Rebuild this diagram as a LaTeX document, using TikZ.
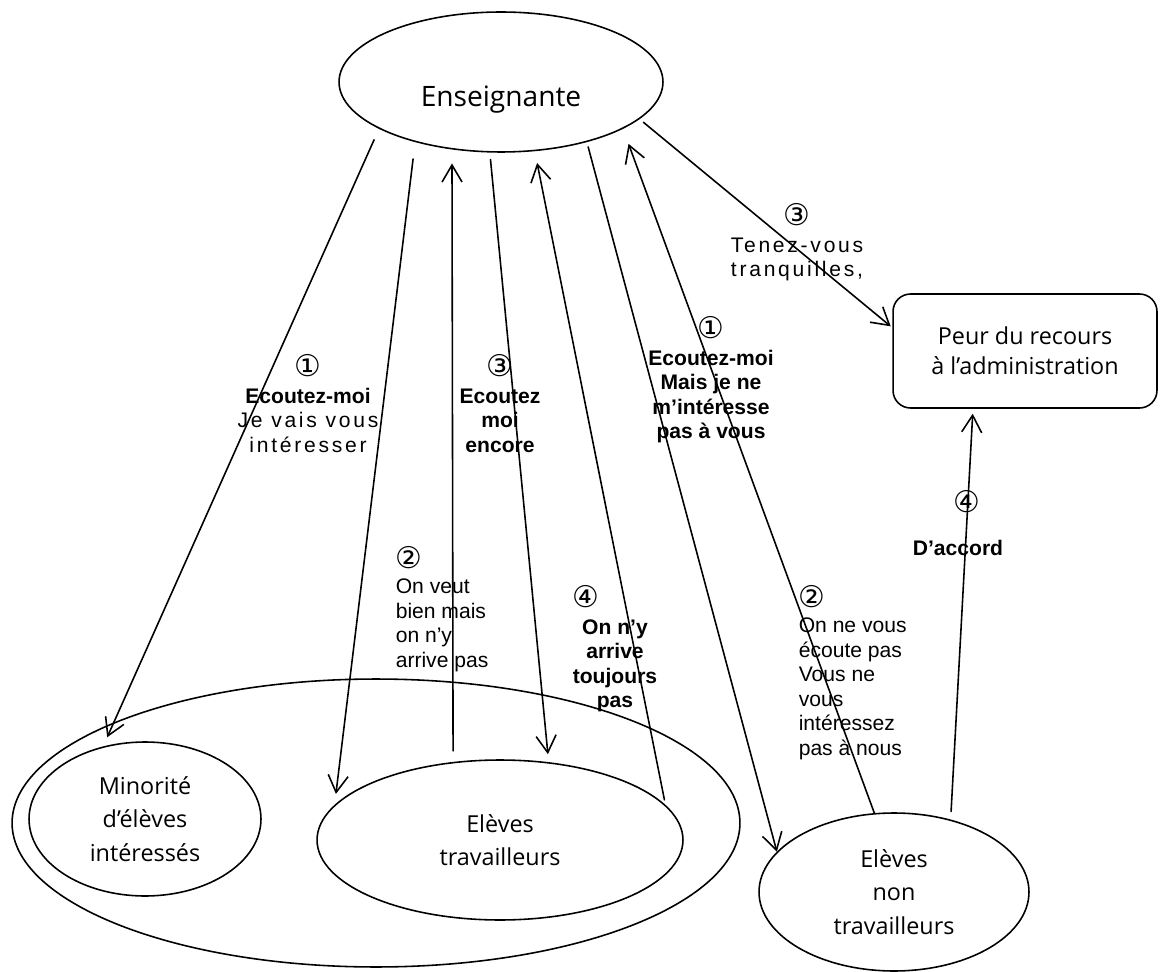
\documentclass[tikz,border=0pt]{standalone}
\usepackage{fontspec}
\setmainfont{Liberation Sans}
\newfontfamily\hand{Open Sans}
\newfontfamily\spaced[LetterSpace=13]{Liberation Sans}
\newfontfamily\digfont{DejaVu Sans}
\usetikzlibrary{shapes.geometric,arrows.meta}
\newcommand\cn[1]{{\mdseries\digfont\fontsize{17}{17}\selectfont #1}}
\begin{document}
\begin{tikzpicture}[x=0.02cm, y=-0.02cm, line width=0.9pt, line join=round, line cap=round,
  >={Straight Barb[length=3.4mm,width=4mm]},
  bulle/.style={draw, ellipse, inner sep=0pt, align=center, font=\hand\fontsize{13.3}{19}\selectfont},
  lbl/.style={inner sep=0pt, anchor=north, align=center, font=\fontsize{12}{14}\selectfont},
  gras/.style={lbl, font=\fontsize{12}{14}\selectfont\bfseries}]
\useasboundingbox (0,0) rectangle (1162,972);
% les acteurs
\node[bulle, minimum width=6.48cm, minimum height=2.8cm, font=\hand\fontsize{16}{19}\selectfont,
  text height=28pt, text depth=0pt] (ens) at (501,82) {Enseignante};
\node[draw, rounded corners=0.35cm, minimum width=5.28cm, minimum height=2.28cm, inner sep=0pt,
  align=center, font=\hand\fontsize{13.3}{17}\selectfont] (adm) at (1025,351) {Peur du recours\\ à l’administration};
\node[draw, ellipse, minimum width=14.56cm, minimum height=5.76cm] (cls) at (376,823) {};
\node[bulle, minimum width=4.64cm, minimum height=3.08cm] (min) at (145,819) {Minorité\\ d’élèves\\ intéressés};
\node[bulle, minimum width=7.32cm, minimum height=3.2cm] (trav) at (500,840) {Elèves\\ travailleurs};
\node[bulle, minimum width=5.4cm, minimum height=3.16cm] (ntrav) at (894,892) {Elèves\\ non\\ travailleurs};
% les echanges
\draw[->, shorten <=0.24cm, shorten >=0.2cm] (ens.201) -- (min.120);
\draw[->, shorten <=0.34cm, shorten >=0.22cm] (ens.215) -- (trav.168);
\draw[->, shorten <=0.22cm, shorten >=0.28cm] (trav.121) -- (ens.234);
\draw[->, shorten <=0.14cm, shorten >=0.16cm] (ens.261) -- (trav.58);
\draw[->, shorten <=0.1cm, shorten >=0.24cm] (trav.12) -- (ens.296);
\draw[->, shorten <=0.1cm] (ens.325) -- (ntrav.161);
\draw[->, shorten >=0.32cm] (ntrav.104) -- (ens.339);
\draw[->, shorten <=0.1cm, shorten >=0.04cm] (ens.345) -- (adm.170);
\draw[->, shorten <=0.16cm, shorten >=0.1cm] (ntrav.52) -- (adm.228);
% les messages
\node[lbl] (m1) at (308,354) {\cn{①}\\[1pt] \textbf{Ecoutez-moi}\\ {\spaced Je vais vous}\\ {\spaced intéresser}};
\node[gras] (m2) at (500,354) {\cn{③}\\[1pt] Ecoutez\\ moi\\ encore};
\node[lbl, anchor=north west, align=left] (m3) at (395,546) {\cn{②}\\ On veut\\ bien mais\\ on n’y\\ arrive pas};
\node[gras] (m4) at (615,585) {\makebox[48pt][l]{\cn{④}}\\[1pt] On n’y\\ arrive\\ toujours\\ pas};
\node[lbl] (m5) at (797,203) {\cn{③}\\[1pt] {\spaced Tenez-vous}\\ {\spaced tranquilles,}};
\node[gras] (m6) at (711,316) {\cn{①}\\[1pt] Ecoutez-moi\\ Mais je ne\\ m’intéresse\\ pas à vous};
\node[lbl, anchor=north west, align=left] (m7) at (798,585) {\cn{②}\\ On ne vous\\ écoute pas\\ Vous ne\\ vous\\ intéressez\\ pas à nous};
\node[gras] (m8) at (958,490) {\makebox[25pt][r]{\cn{④}}\\[10pt] D’accord};
\end{tikzpicture}
\end{document}
